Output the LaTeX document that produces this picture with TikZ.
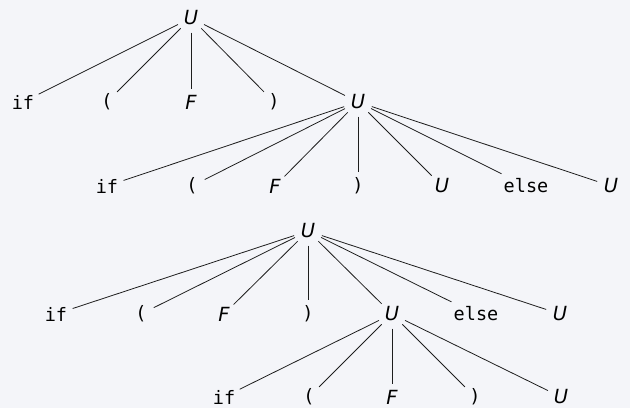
\documentclass[tikz,border=0pt]{standalone}
\usepackage{fontspec}
\setmainfont{DejaVu Sans}
\setmonofont{DejaVu Sans Mono}
\definecolor{bgc}{HTML}{F4F5F9}
\definecolor{lnc}{HTML}{1E1E1E}
\begin{document}
\begin{tikzpicture}[x=1pt,y=-1pt,
  every node/.style={circle,inner sep=3pt,text=black},
  nt/.style={font=\fontsize{19.5}{22}\selectfont\itshape},
  tm/.style={font=\fontsize{18.5}{22}\selectfont\ttfamily},
  edge/.style={draw=lnc,line width=0.8pt}]
\fill[bgc] (0,0) rectangle (630,408);
\useasboundingbox (0,0) rectangle (630,408);
% tree 1
\node[nt] (a) at (191,18) {U};
\node[tm] (a1) at (23,102) {if};
\node[tm] (a2) at (107,102) {(};
\node[nt] (a3) at (191,102) {F};
\node[tm] (a4) at (274,102) {)};
\node[nt] (a5) at (358,102) {U};
\node[tm] (b1) at (107,186) {if};
\node[tm] (b2) at (192,186) {(};
\node[nt] (b3) at (275,186) {F};
\node[tm] (b4) at (358,186) {)};
\node[nt] (b5) at (442,186) {U};
\node[tm] (b6) at (526,186) {else};
\node[nt] (b7) at (611,186) {U};
\foreach \c in {a1,a2,a3,a4,a5} \draw[edge] (a) -- (\c);
\foreach \c in {b1,b2,b3,b4,b5,b6,b7} \draw[edge] (a5) -- (\c);
% tree 2
\node[nt] (c) at (308,231) {U};
\node[tm] (c1) at (56,314) {if};
\node[tm] (c2) at (141,314) {(};
\node[nt] (c3) at (224,314) {F};
\node[tm] (c4) at (308,314) {)};
\node[nt] (c5) at (392,314) {U};
\node[tm] (c6) at (476,314) {else};
\node[nt] (c7) at (560,314) {U};
\node[tm] (d1) at (224,397) {if};
\node[tm] (d2) at (309,397) {(};
\node[nt] (d3) at (392,397) {F};
\node[tm] (d4) at (475,397) {)};
\node[nt] (d5) at (561,397) {U};
\foreach \c in {c1,c2,c3,c4,c5,c6,c7} \draw[edge] (c) -- (\c);
\foreach \c in {d1,d2,d3,d4,d5} \draw[edge] (c5) -- (\c);
\end{tikzpicture}
\end{document}
